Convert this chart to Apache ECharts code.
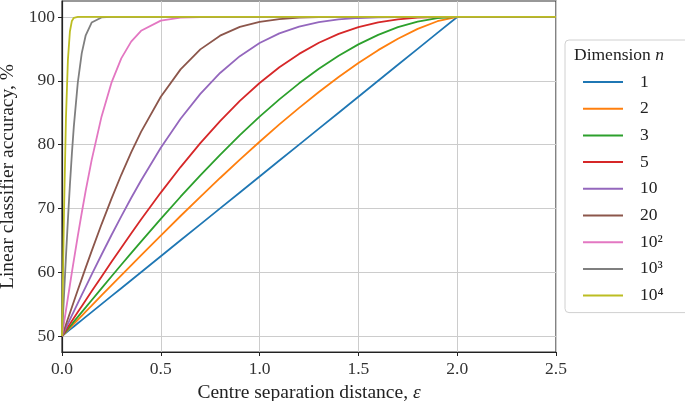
<!DOCTYPE html>
<html>
<head>
<meta charset="utf-8">
<script src="https://cdn.jsdelivr.net/npm/echarts@6/dist/echarts.min.js"></script>
<style>
  html, body { margin: 0; padding: 0; background: #fff; }
  #chart { width: 685px; height: 401px; }
</style>
</head>
<body>
<div id="chart"></div>
<script>
// centre separation distance (x)
var eps = [0, 0.01, 0.02, 0.03, 0.04, 0.05, 0.06, 0.08, 0.1, 0.12, 0.15, 0.2, 0.25, 0.3, 0.35, 0.4,
    0.5, 0.6, 0.7, 0.8, 0.9, 1.0, 1.1, 1.2, 1.3, 1.4, 1.5, 1.6, 1.7, 1.8, 1.9, 2.0, 2.5];

// accuracy (%)
var acc1 = [50, 50.25, 50.5, 50.75, 51, 51.25, 51.5, 52, 52.5, 53, 53.75, 55, 56.25, 57.5, 58.75, 60,
    62.5, 65, 67.5, 70, 72.5, 75, 77.5, 80, 82.5, 85, 87.5, 90, 92.5, 95, 97.5, 100, 100];
var acc2 = [50, 50.32, 50.64, 50.95, 51.27, 51.59, 51.91, 52.55, 53.18, 53.82, 54.77, 56.36, 57.94, 59.51, 61.08, 62.65,
    65.75, 68.81, 71.82, 74.77, 77.65, 80.45, 83.16, 85.76, 88.25, 90.59, 92.79, 94.8, 96.59, 98.13, 99.33, 100, 100];
var acc3 = [50, 50.38, 50.75, 51.12, 51.5, 51.87, 52.25, 53, 53.75, 54.49, 55.61, 57.48, 59.33, 61.17, 62.99, 64.8,
    68.36, 71.83, 75.18, 78.4, 81.47, 84.38, 87.09, 89.6, 91.88, 93.93, 95.7, 97.2, 98.4, 99.28, 99.82, 100, 100];
var acc5 = [50, 50.47, 50.94, 51.41, 51.87, 52.34, 52.81, 53.75, 54.68, 55.61, 57, 59.31, 61.6, 63.85, 66.07, 68.26,
    72.48, 76.48, 80.23, 83.69, 86.84, 89.65, 92.11, 94.21, 95.95, 97.34, 98.4, 99.14, 99.62, 99.88, 99.98, 100, 100];
var acc10 = [50, 50.65, 51.29, 51.94, 52.59, 53.23, 53.88, 55.17, 56.44, 57.72, 59.62, 62.74, 65.79, 68.76, 71.63, 74.38,
    79.5, 84.04, 87.95, 91.22, 93.86, 95.91, 97.43, 98.49, 99.19, 99.62, 99.84, 99.95, 99.99, 100, 100, 100, 100];
var acc20 = [50, 50.9, 51.81, 52.71, 53.61, 54.51, 55.42, 57.22, 58.96, 60.72, 63.31, 67.51, 71.5, 75.27, 78.77, 81.99,
    87.5, 91.79, 94.92, 97.07, 98.44, 99.24, 99.67, 99.88, 99.96, 99.99, 100, 100, 100, 100, 100, 100, 100];
var acc100 = [50, 52.01, 54.02, 56.02, 58, 59.97, 61.91, 65.69, 69.32, 72.78, 77.56, 84.38, 89.66, 93.51, 96.14, 97.83,
    99.42, 99.88, 99.98, 100, 100, 100, 100, 100, 100, 100, 100, 100, 100, 100, 100, 100, 100];
var acc1000 = [50, 56.29, 62.42, 68.26, 73.67, 78.57, 82.89, 89.73, 94.33, 97.13, 99.12, 99.92, 100, 100, 100, 100,
    100, 100, 100, 100, 100, 100, 100, 100, 100, 100, 100, 100, 100, 100, 100, 100, 100];
var acc10000 = [50, 69.15, 84.13, 93.32, 97.72, 99.38, 99.87, 100, 100, 100, 100, 100, 100, 100, 100, 100,
    100, 100, 100, 100, 100, 100, 100, 100, 100, 100, 100, 100, 100, 100, 100, 100, 100];

var dimNames = ['1', '2', '3', '5', '10', '20', '10²', '10³', '10⁴'];
var dimValues = [acc1, acc2, acc3, acc5, acc10, acc20, acc100, acc1000, acc10000];
var colors = ['#1f77b4', '#ff7f0e', '#2ca02c', '#d62728', '#9467bd', '#8c564b', '#e377c2', '#7f7f7f', '#bcbd22'];
var yTicks = [50, 60, 70, 80, 90, 100];

var serif = '"Liberation Serif", "DejaVu Serif", serif';

var myc = echarts.init(document.getElementById('chart'));

var series = dimNames.map(function (name, k) {
    return {
        name: name,
        type: 'line',
        data: eps.map(function (x, i) { return [x, dimValues[k][i]]; }),
        showSymbol: false,
        lineStyle: { width: 1.8, color: colors[k] },
        itemStyle: { color: colors[k] },
        animation: false
    };
});

var options = {
    animation: false,
    grid: {
        left: 62, right: 129, top: 1, bottom: 49,
        outerBoundsMode: 'none',
        containLabel: false,
        show: true, borderColor: '#333', borderWidth: 1.2, backgroundColor: 'transparent'
    },
    xAxis: {
        type: 'value',
        min: 0, max: 2.5, interval: 0.5,
        name: 'Centre separation distance, {e|ε}',
        nameLocation: 'middle',
        nameGap: 28,
        nameTextStyle: {
            fontFamily: serif, fontSize: 19.5, color: '#222',
            rich: { e: { fontFamily: serif, fontStyle: 'italic', fontSize: 19.5, color: '#222' } }
        },
        axisLine: { show: true, lineStyle: { color: '#222', width: 1.2 } },
        axisTick: { show: true, length: 4, lineStyle: { color: '#222' } },
        axisLabel: {
            fontFamily: serif, fontSize: 17.5, color: '#333', margin: 8,
            formatter: function (v) { return v.toFixed(1); }
        },
        splitLine: { show: true, lineStyle: { color: '#cccccc', width: 1 } }
    },
    yAxis: {
        type: 'value',
        min: 47.5, max: 102.5,
        name: 'Linear classifier accuracy, %',
        nameLocation: 'middle',
        nameGap: 40,
        nameTextStyle: { fontFamily: serif, fontSize: 19.5, color: '#222' },
        axisLine: { show: true, lineStyle: { color: '#222', width: 1.2 } },
        axisTick: { show: true, length: 4, lineStyle: { color: '#222' }, customValues: yTicks },
        axisLabel: { fontFamily: serif, fontSize: 17.5, color: '#333', margin: 7, customValues: yTicks },
        splitLine: { show: true, lineStyle: { color: '#cccccc', width: 1 } }
    },
    legend: {
        orient: 'vertical',
        left: 565, top: 40,
        padding: [33, 33, 8, 18],
        itemWidth: 40, itemHeight: 2, itemGap: 8.7,
        icon: 'rect',
        backgroundColor: '#fff',
        borderColor: '#d0d0d0', borderWidth: 1, borderRadius: 4,
        textStyle: { fontFamily: serif, fontSize: 17.5, color: '#222', padding: [0, 0, 0, 12] },
        data: dimNames
    },
    graphic: [{
        type: 'text',
        left: 574, top: 46, z: 100,
        style: {
            text: 'Dimension {n|n}',
            fontFamily: serif, fontSize: 17.5, fill: '#222',
            rich: { n: { fontFamily: serif, fontStyle: 'italic', fontSize: 17.5 } }
        }
    }],
    color: colors,
    series: series
};
myc.setOption(options);
</script>
</body>
</html>
